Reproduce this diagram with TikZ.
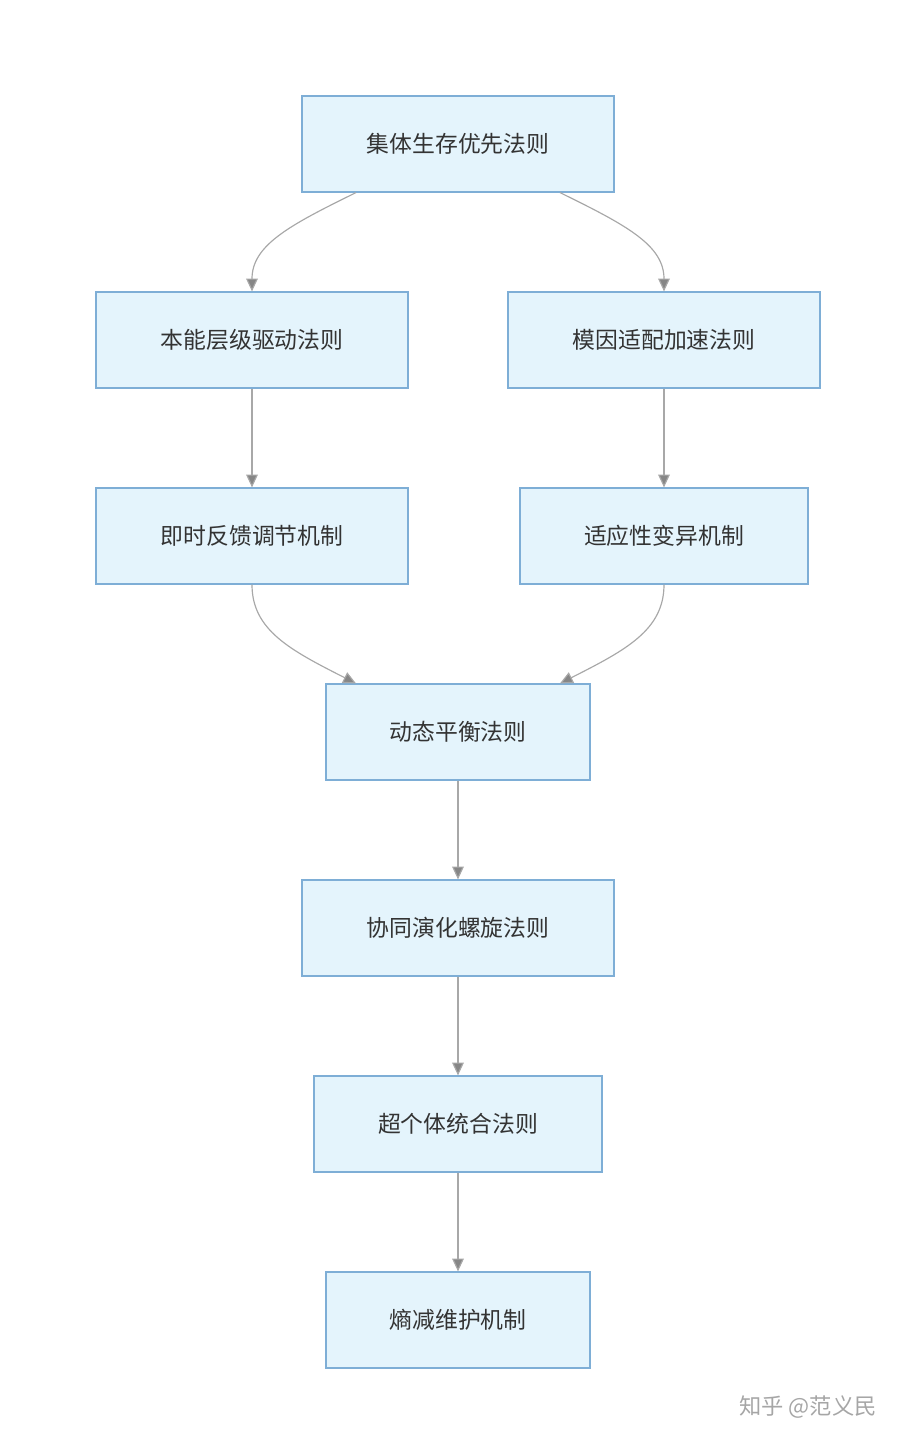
\documentclass[tikz,border=0pt]{standalone}
\usepackage{fontspec}
\setmainfont{Noto Sans CJK SC}
\usetikzlibrary{arrows.meta,calc}
\definecolor{boxfill}{HTML}{E4F4FC}
\definecolor{boxdraw}{HTML}{7EAED6}
\definecolor{arr}{HTML}{A8A8A8}
\begin{document}
\begin{tikzpicture}[x=0.03cm,y=-0.03cm,
  box/.style={draw=boxdraw,fill=boxfill,line width=1pt,minimum height=2.88cm,inner sep=0pt,font=\fontsize{19.5}{22}\selectfont,text=black!80},
  w312/.style={minimum width=9.36cm},w288/.style={minimum width=8.64cm},w264/.style={minimum width=7.92cm},
  ar/.style={draw=arr,line width=1pt,-{Triangle[length=11pt,width=10pt,fill=arr!80!black]}}]
\useasboundingbox (0,0) rectangle (916,1443);
\node[box,w312] (A) at (458,144) {集体生存优先法则};
\node[box,w312] (B) at (252,340) {本能层级驱动法则};
\node[box,w312] (C) at (664,340) {模因适配加速法则};
\node[box,w312] (D) at (252,536) {即时反馈调节机制};
\node[box,w288] (E) at (664,536) {适应性变异机制};
\node[box,w264] (F) at (458,732) {动态平衡法则};
\node[box,w312] (G) at (458,928) {协同演化螺旋法则};
\node[box,w288] (H) at (458,1124) {超个体统合法则};
\node[box,w264] (I) at (458,1320) {熵减维护机制};
\node[text=black!35,font=\fontsize{19}{22}\selectfont] (W) at (808,1407) {知乎 @范义民};
\draw[ar] ($(A.south)+(-102,0)$) .. controls (290,225) and (252,245) .. (B.north);
\draw[ar] ($(A.south)+(102,0)$) .. controls (626,225) and (664,245) .. (C.north);
\draw[ar] (B) -- (D);
\draw[ar] (C) -- (E);
\draw[ar] (D.south) .. controls (252,630) and (290,650) .. ($(F.north)+(-102,0)$);
\draw[ar] (E.south) .. controls (664,630) and (626,650) .. ($(F.north)+(102,0)$);
\draw[ar] (F) -- (G);
\draw[ar] (G) -- (H);
\draw[ar] (H) -- (I);
\end{tikzpicture}
\end{document}
